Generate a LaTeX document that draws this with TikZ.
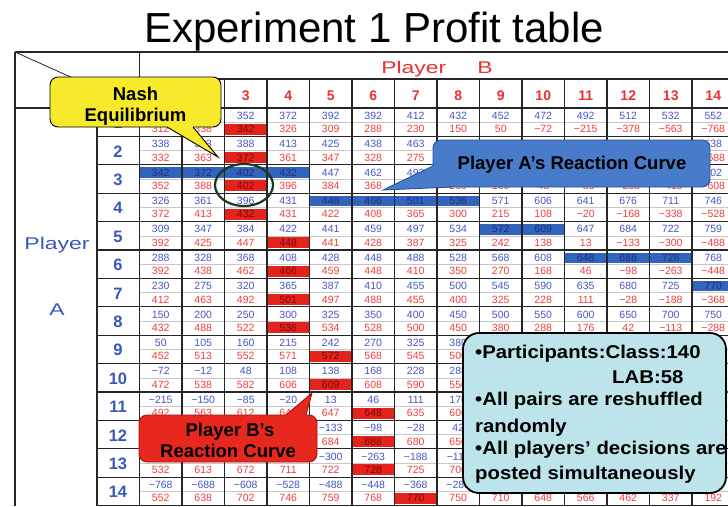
\documentclass[tikz,border=0pt]{standalone}
\usepackage{fontspec}
\setmainfont{Liberation Sans}
\usetikzlibrary{shapes.geometric}
\definecolor{numblue}{RGB}{72,86,196}
\definecolor{numred}{RGB}{240,62,62}
\definecolor{hiblue}{RGB}{50,100,190}
\definecolor{hired}{RGB}{228,36,28}
\definecolor{hitblue}{RGB}{30,48,120}
\definecolor{hitred}{RGB}{120,10,10}
\definecolor{hdrred}{RGB}{236,48,48}
\definecolor{lblblue}{RGB}{58,88,188}
\definecolor{nashy}{RGB}{246,234,42}
\definecolor{calA}{RGB}{72,124,202}
\definecolor{calAd}{RGB}{40,80,150}
\definecolor{calB}{RGB}{232,40,30}
\definecolor{calBd}{RGB}{160,20,15}
\definecolor{infobg}{RGB}{188,228,234}
\definecolor{nashgreen}{RGB}{22,58,32}
\newcommand\pnum[1]{\edef\tmpv{#1}\ifnum\tmpv<0 −\number-\tmpv\else\tmpv\fi}
% 1 if a number text centred at x=#1 with baseline y=#2 lies wholly under a callout
\newcommand\hiddentest[2]{\pgfmathtruncatemacro\hideflag{
 ((#1-11>50)&&(#1+11<221)&&(#2-7>77)&&(#2+0.5<127)) ||
 ((#1-11>433)&&(#1+11<710)&&(#2-7>140)&&(#2+0.5<187)) ||
 ((#1-11>139)&&(#1+11<317)&&(#2-7>415)&&(#2+0.5<462)) ||
 ((#1-11>463)&&(#1+11<726)&&(#2-7>333)&&(#2+0.5<493))}}
\begin{document}
\begin{tikzpicture}[x=1pt,y=-1pt,
  grid/.style={draw=black!85,line width=1.1pt},
  halfline/.style={draw=black!22,line width=0.5pt},
  num/.style={font=\fontsize{10.5}{12}\selectfont,inner sep=0pt,anchor=base},
  rowlbl/.style={font=\bfseries\fontsize{16.5}{18}\selectfont,text=lblblue,inner sep=0pt,anchor=base},
  collbl/.style={font=\bfseries\fontsize{14}{16}\selectfont,text=hdrred,inner sep=0pt,anchor=base},
  plabel/.style={font=\fontsize{17}{18}\selectfont,inner sep=0pt,anchor=base},
  calltext/.style={font=\bfseries\fontsize{18.5}{20}\selectfont,inner sep=0pt,anchor=base},
  infotext/.style={font=\bfseries\fontsize{18.5}{20}\selectfont,inner sep=0pt,anchor=base west},
  callbox/.style={line width=0.9pt,rounded corners=8pt,inner sep=0pt}]
\useasboundingbox (0,0) rectangle (728,506);
\clip (0,0) rectangle (728,506);
\fill[white] (0,0) rectangle (728,506);
% store profits of A (blue); B's profit in (i,j) is A's in (j,i)
\foreach \r [count=\i] in {
 {312,332,352,372,392,392,412,432,452,472,492,512,532,552},
 {338,363,388,413,425,438,463,488,513,538,563,588,613,638},
 {342,372,402,432,447,462,492,522,552,582,612,642,672,702},
 {326,361,396,431,448,466,501,536,571,606,641,676,711,746},
 {309,347,384,422,441,459,497,534,572,609,647,684,722,759},
 {288,328,368,408,428,448,488,528,568,608,648,688,728,768},
 {230,275,320,365,387,410,455,500,545,590,635,680,725,770},
 {150,200,250,300,325,350,400,450,500,550,600,650,700,750},
 {50,105,160,215,242,270,325,380,435,490,545,600,655,710},
 {-72,-12,48,108,138,168,228,288,348,408,468,528,588,648},
 {-215,-150,-85,-20,13,46,111,176,241,306,371,436,501,566},
 {-378,-308,-238,-168,-133,-98,-28,42,112,182,252,322,392,462},
 {-563,-488,-413,-338,-300,-263,-188,-113,-38,37,112,187,262,337},
 {-768,-688,-608,-528,-488,-448,-368,-288,-208,-128,-48,32,112,192}}{
  \foreach \v [count=\j] in \r {\expandafter\xdef\csname A\i-\j\endcsname{\v}}
}
\foreach \i/\j in {3/1,3/2,3/3,3/4,4/5,4/6,4/7,4/8,5/9,5/10,6/11,6/12,6/13,7/14}
  {\expandafter\gdef\csname HB\i-\j\endcsname{}}
\foreach \i/\j in {1/3,2/3,3/3,4/3,5/4,6/4,7/4,8/4,9/5,10/5,11/6,12/6,13/6,14/7}
  {\expandafter\gdef\csname HR\i-\j\endcsname{}}
% cells
\foreach \i in {1,...,14}{
 \foreach \j in {1,...,14}{
  \pgfmathsetmacro\colx{118.25+42.5*\j}
  \pgfmathsetmacro\rowtop{79.6+28.4*\i}
  \pgfmathsetmacro\bbase{\rowtop+11.2}
  \pgfmathsetmacro\rbase{\rowtop+24.6}
  \ifcsname HB\i-\j\endcsname
    \fill[hiblue] (\colx-21.25,\rowtop+2.5) rectangle (\colx+21.25,\rowtop+13);
    \def\bcol{hitblue}
  \else\def\bcol{numblue}\fi
  \ifcsname HR\i-\j\endcsname
    \fill[hired] (\colx-21.25,\rowtop+15.5) rectangle (\colx+21.25,\rowtop+26.5);
    \def\rcol{hitred}
  \else\def\rcol{numred}\fi
  \hiddentest{\colx}{\bbase}
  \ifnum\hideflag=0
    \node[num,text=\bcol] (b\i-\j) at (\colx,\bbase) {\pnum{\csname A\i-\j\endcsname}};
  \fi
  \hiddentest{\colx}{\rbase}
  \ifnum\hideflag=0
    \node[num,text=\rcol] (r\i-\j) at (\colx,\rbase) {\pnum{\csname A\j-\i\endcsname}};
  \fi
 }
}
% half lines
\foreach \i in {1,...,14}{\draw[halfline] (139.5,93.8+28.4*\i) -- (728,93.8+28.4*\i);}
% grid
\draw[grid] (15,52) -- (728,52);
\draw[grid] (15,52) -- (15,506);
\draw[grid] (139.5,52) -- (139.5,506);
\draw[grid] (139.5,79) -- (728,79);
\draw[grid] (15,108) -- (728,108);
\draw[grid] (97,108) -- (97,506);
\foreach \j in {2,...,14}{\draw[grid] (97+42.5*\j,79) -- (97+42.5*\j,506);}
\foreach \i in {1,...,14}{\draw[grid] (97,108+28.4*\i) -- (728,108+28.4*\i);}
\draw[draw=black!85,line width=0.8pt] (15,52) -- (139.5,108);
% labels
\node[font=\fontsize{42}{48}\selectfont,inner sep=0pt,anchor=base] (title) at (374,42.5) {Experiment 1 Profit table};
\node[plabel,text=hdrred] (playerB) at (437,73) {\scalebox{1.35}[1]{Player}\hspace{31pt}\scalebox{1.35}[1]{B}};
\node[plabel,text=lblblue] (playerA1) at (57,249) {\scalebox{1.35}[1]{Player}};
\node[plabel,text=lblblue] (playerA2) at (57,315) {\scalebox{1.35}[1]{A}};
\foreach \i in {1,...,14}{\node[rowlbl] (row\i) at (118,100.2+28.4*\i) {\i};}
\foreach \j in {3,...,14}{\node[collbl] (col\j) at (118.25+42.5*\j,100) {\j};}
% Nash ring
\node[draw=nashgreen,line width=2.2pt,ellipse,minimum width=58pt,minimum height=42pt,inner sep=0pt] (ring) at (244,185) {};
% Nash callout
\node[callbox,fill=nashy,draw=black,minimum width=171pt,minimum height=50pt] (nash) at (135.5,102) {};
\fill[nashy] (167,127) -- (218,157) -- (193,127) -- (193,123) -- (167,123) -- cycle;
\draw[line width=0.9pt] (167,127) -- (218,157) -- (193,127);
\node[calltext] (nashT1) at (135.5,100) {Nash};
\node[calltext] (nashT2) at (135.5,121.7) {Equilibrium};
% Player A callout
\node[callbox,fill=calA,draw=calAd,minimum width=277pt,minimum height=47pt] (curveA) at (571.5,163.5) {};
\fill[calA] (433,166) -- (383,190) -- (452,187) -- (452,166) -- cycle;
\draw[line width=0.9pt,draw=calAd] (433,166) -- (383,190) -- (452,187);
\node[calltext] (curveAT) at (572,169) {Player A's Reaction Curve};
% Player B callout
\node[callbox,fill=calB,draw=calBd,minimum width=178pt,minimum height=47pt] (curveB) at (228,438.5) {};
\fill[calB] (286,415) -- (312,393) -- (306,415) -- (306,419) -- (286,419) -- cycle;
\draw[line width=0.9pt,draw=calBd] (286,415) -- (312,393) -- (306,415);
\node[calltext] (curveBT1) at (230,436) {Player B's};
\node[calltext] (curveBT2) at (228,457.3) {Reaction Curve};
% info box
\node[draw=black,line width=1.8pt,fill=infobg,rounded corners=16pt,minimum width=263pt,minimum height=160pt,inner sep=0pt] (info) at (594.5,413) {};
\node[infotext] (info1) at (475,358) {\scalebox{1.1}[1]{•Participants:Class:140}};
\node[infotext] (info2) at (612,383) {\scalebox{1.1}[1]{LAB:58}};
\node[infotext] (info3) at (475,405) {\scalebox{1.1}[1]{•All pairs are reshuffled}};
\node[infotext] (info4) at (475,432) {\scalebox{1.1}[1]{randomly}};
\node[infotext] (info5) at (475,454) {\scalebox{1.1}[1]{•All players' decisions are}};
\node[infotext] (info6) at (475,479) {\scalebox{1.1}[1]{posted simultaneously}};
\end{tikzpicture}
\end{document}
